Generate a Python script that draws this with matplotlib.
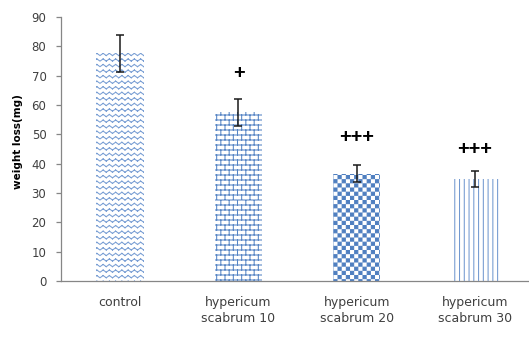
import numpy as np
import matplotlib
matplotlib.use("Agg")
import matplotlib.pyplot as plt
import matplotlib.hatch as mhatch
from matplotlib.path import Path

# ---------------- data ----------------
categories = ["control", "hypericum\nscabrum 10", "hypericum\nscabrum 20", "hypericum\nscabrum 30"]
means = [77.6, 57.5, 36.6, 34.8]
errors = [6.3, 4.6, 2.9, 2.8]
sig_marks = ["", "+", "+++", "+++"]
y_ticks = [0, 10, 20, 30, 40, 50, 60, 70, 80, 90]

# ---------------- custom hatch patterns (tile = 1 unit square) ----------------
class _SegPattern(mhatch.HatchPatternBase):
    char = None
    def __init__(self, hatch, density):
        on = bool(hatch) and (self.char in hatch)
        self.segs = self.make() if on else np.empty((0, 2, 2))
        self.num_vertices = len(self.segs) * 2
        self.num_lines = len(self.segs)
    def make(self):
        return np.empty((0, 2, 2))
    def set_vertices_and_codes(self, vertices, codes):
        vertices[0::2] = self.segs[:, 0]
        vertices[1::2] = self.segs[:, 1]
        codes[0::2] = Path.MOVETO
        codes[1::2] = Path.LINETO


class ZigZag(_SegPattern):
    char = "o"
    def make(self):
        R, C, amp = 18, 16, 0.022
        segs = []
        for k in range(-1, R + 1):
            y0 = k / R
            for j in range(C):
                xa, xm, xb = j / C, (j + 0.5) / C, (j + 1) / C
                segs.append([[xa, y0], [xm, y0 + amp]])
                segs.append([[xm, y0 + amp], [xb, y0]])
        return np.array(segs)


class Brick(_SegPattern):
    char = "O"
    def make(self):
        R, C = 20, 12
        segs = []
        for k in range(R + 1):
            segs.append([[0, k / R], [1, k / R]])
        for k in range(R):
            off = 0.5 * (k % 2)
            for j in range(-1, C + 1):
                xx = (j + off) / C
                segs.append([[xx, k / R], [xx, (k + 1) / R]])
        return np.array(segs)


class VLines(_SegPattern):
    char = "|"
    def make(self):
        N = 21
        return np.array([[[(j + 0.5) / N, 0], [(j + 0.5) / N, 1]] for j in range(N)])


class Checker(mhatch.HatchPatternBase):
    char = "."
    def __init__(self, hatch, density):
        on = bool(hatch) and (self.char in hatch)
        N, d = 24, 0.005
        self.squares = []
        if on:
            for i in range(N):
                for j in range(N):
                    if (i + j) % 2 == 0:
                        self.squares.append((i / N + d, j / N + d, (i + 1) / N - d, (j + 1) / N - d))
        self.num_vertices = len(self.squares) * 5
        self.num_lines = 0
    def set_vertices_and_codes(self, vertices, codes):
        for n, (x0, y0, x1, y1) in enumerate(self.squares):
            vertices[n * 5:(n + 1) * 5] = [[x0, y0], [x1, y0], [x1, y1], [x0, y1], [x0, y0]]
            codes[n * 5:(n + 1) * 5] = [Path.MOVETO, Path.LINETO, Path.LINETO, Path.LINETO, Path.CLOSEPOLY]


mhatch._hatch_types[:] = [ZigZag, Brick, VLines, Checker]

# ---------------- styling ----------------
plt.rcParams["font.family"] = ["DejaVu Sans"]
plt.rcParams["hatch.linewidth"] = 0.75
hatches = ["o", "O", ".", "|"]
hatch_colors = ["#7A9FD4", "#5584C4", "#4F7FC0", "#7299D0"]
axis_gray = "#868686"
text_gray = "#404040"
sig_offsets_pt = [0, 18.5, 19.7, 15.0]

fig = plt.figure(figsize=(5.29, 3.56), dpi=100)
ax = fig.add_axes([61 / 529, 75 / 356, 468 / 529, 264 / 356])

x = np.arange(len(categories))
bars = ax.bar(x, means, width=0.4, color="none", edgecolor=hatch_colors, linewidth=0,
              yerr=errors, error_kw=dict(ecolor="#1a1a1a", elinewidth=1.1, capsize=3, capthick=1.1))
for b, h in zip(bars, hatches):
    b.set_hatch(h)

for i, (m, e, s) in enumerate(zip(means, errors, sig_marks)):
    if s:
        ax.annotate(s, (x[i], m + e), xytext=(0, sig_offsets_pt[i]), textcoords="offset points",
                    ha="center", va="center", fontsize=14.4, fontweight="bold",
                    family=["Liberation Sans"], color="black")

ax.set_xlim(-0.5, 3.456)
ax.set_ylim(0, 90)
ax.set_yticks(y_ticks)
ax.set_xticks(x)
ax.set_xticklabels(categories, linespacing=1.3)

for sp in ["top", "right"]:
    ax.spines[sp].set_visible(False)
for sp in ["left", "bottom"]:
    ax.spines[sp].set_color(axis_gray)
    ax.spines[sp].set_linewidth(0.9)

ax.tick_params(axis="y", direction="out", length=3.5, width=0.9, color=axis_gray,
               labelsize=8.5, labelcolor=text_gray, pad=7)
ax.tick_params(axis="x", length=0, labelsize=9, labelcolor=text_gray, pad=10.5)

ax.set_ylabel("weight loss(mg)", fontsize=7.5, fontweight="bold", color="black")
ax.yaxis.label.set_verticalalignment("center")
ax.yaxis.set_label_coords((18 - 61) / 468, (281 - 142) / 264)

fig.savefig("out.png", dpi=100)
